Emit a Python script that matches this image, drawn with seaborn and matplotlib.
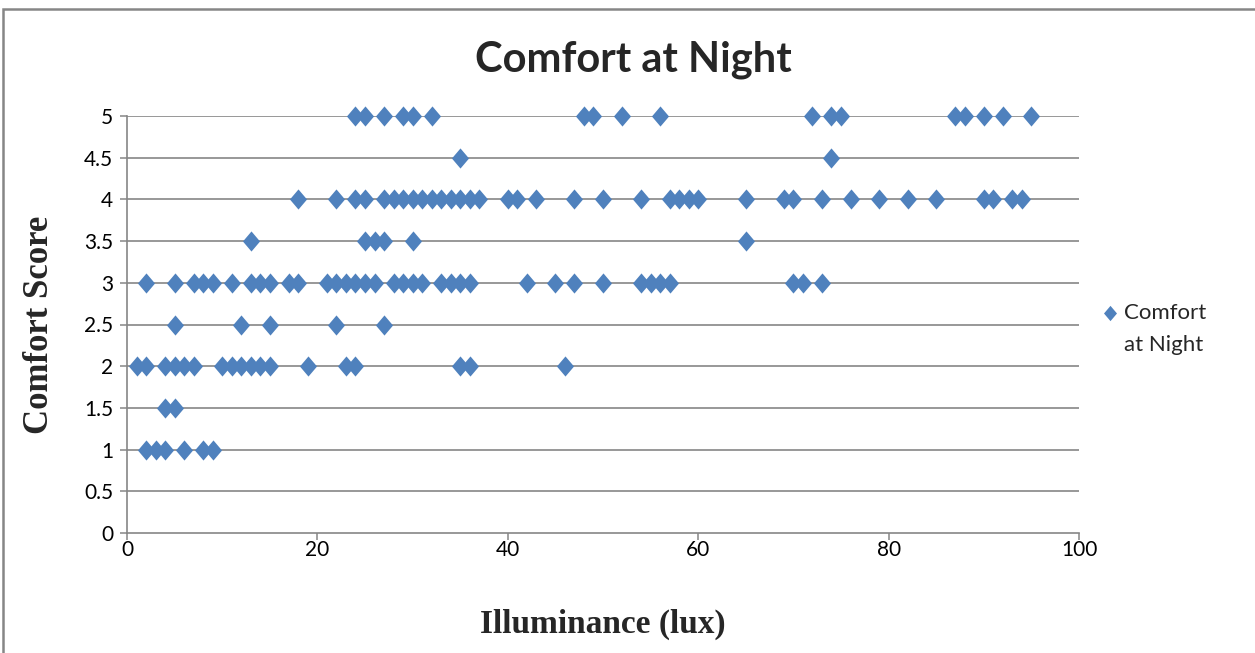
import numpy as np
import pandas as pd
import matplotlib
matplotlib.use("Agg")
import matplotlib.pyplot as plt
from matplotlib.path import Path
from matplotlib.patches import Rectangle
from matplotlib.lines import Line2D
import seaborn as sns

# Illuminance readings (lux) grouped by reported comfort score
lux_at_5 = [24, 25, 27, 29, 30, 32, 48, 49, 52, 56, 72, 74, 75, 87, 88, 90, 92, 95]
lux_at_4_5 = [35, 74]
lux_at_4 = [18, 22, 24, 25, 27, 28, 29, 30, 31, 32, 33, 34, 35, 36, 37, 40, 41, 43,
            47, 50, 54, 57, 58, 59, 60, 65, 69, 70, 73, 76, 79, 82, 85, 90, 91, 93, 94]
lux_at_3_5 = [13, 25, 26, 27, 30, 65]
lux_at_3 = [2, 5, 7, 8, 9, 11, 13, 14, 15, 17, 18, 21, 22, 23, 24, 25, 26, 28, 29,
            30, 31, 33, 34, 35, 36, 42, 45, 47, 50, 54, 55, 56, 57, 70, 71, 73]
lux_at_2_5 = [5, 12, 15, 22, 27]
lux_at_2 = [1, 2, 4, 5, 6, 7, 10, 11, 12, 13, 14, 15, 19, 23, 24, 35, 36, 46]
lux_at_1_5 = [4, 5]
lux_at_1 = [2, 3, 4, 6, 8, 9]

score_levels = [5, 4.5, 4, 3.5, 3, 2.5, 2, 1.5, 1]
lux_groups = [lux_at_5, lux_at_4_5, lux_at_4, lux_at_3_5, lux_at_3,
              lux_at_2_5, lux_at_2, lux_at_1_5, lux_at_1]

x_ticks = [0, 20, 40, 60, 80, 100]
y_ticks = [0, 0.5, 1, 1.5, 2, 2.5, 3, 3.5, 4, 4.5, 5]

df = pd.DataFrame({
    "Illuminance": [x for grp in lux_groups for x in grp],
    "Comfort": [s for s, grp in zip(score_levels, lux_groups) for _ in grp],
})

sns.set_theme(style="white")
plt.rcParams["font.family"] = ["Lato", "DejaVu Sans"]

W, H = 1255, 653
fig = plt.figure(figsize=(W / 100, H / 100), dpi=100)
fig.patch.set_facecolor("white")

# chart-area frame
fig.patches.append(Rectangle((3 / W, -0.05), 1.1, (H - 9) / H + 0.05,
                             transform=fig.transFigure, fill=False,
                             edgecolor="#868686", linewidth=1.8, zorder=0))

ax = fig.add_axes([127 / W, (H - 533) / H, 952 / W, 417 / H])

diamond = Path([(0, 1), (0.85, 0), (0, -1), (-0.85, 0), (0, 1)],
               [Path.MOVETO, Path.LINETO, Path.LINETO, Path.LINETO, Path.CLOSEPOLY])
blue = "#4F81BD"

sns.scatterplot(data=df, x="Illuminance", y="Comfort", ax=ax, marker=diamond,
                s=210, color=blue, linewidth=0, legend=False, zorder=3,
                clip_on=False)

ax.set_xlim(0, 100)
ax.set_ylim(0, 5)
ax.set_xticks(x_ticks)
ax.set_yticks(y_ticks)
ax.set_xticklabels([f"{v:g}" for v in x_ticks])
ax.set_yticklabels([f"{v:g}" for v in y_ticks])

grid_c = "#868686"
for v in y_ticks[1:]:
    ax.axhline(v, color=grid_c, linewidth=1.2, zorder=1)
for side in ["top", "right"]:
    ax.spines[side].set_visible(False)
for side in ["left", "bottom"]:
    ax.spines[side].set_color(grid_c)
    ax.spines[side].set_linewidth(1.2)

ax.tick_params(axis="both", which="both", direction="out", length=5, width=1.1,
               color=grid_c, labelsize=15, labelcolor="black")
ax.tick_params(axis="x", pad=0, bottom=True)
ax.tick_params(axis="y", pad=5, left=True)

ax.set_xlabel("Illuminance (lux)", fontfamily="Liberation Serif", fontweight="bold",
              fontsize=24, labelpad=35)
ax.set_ylabel("Comfort Score", fontfamily="Liberation Serif", fontweight="bold",
              fontsize=25, labelpad=20)

fig.text(633 / W, 1 - 60 / H, "Comfort at Night", ha="center", va="center",
         fontsize=30, fontweight="bold")

# legend entry
fig.add_artist(Line2D([1110 / W], [1 - 313 / H], linestyle="none", marker=diamond,
                      markersize=11, markerfacecolor=blue, markeredgewidth=0,
                      transform=fig.transFigure))
fig.text(1124 / W, 1 - 313 / H, "Comfort", ha="left", va="center", fontsize=16)
fig.text(1124 / W, 1 - 345 / H, "at Night", ha="left", va="center", fontsize=16)

fig.savefig("out.png", dpi=100, facecolor="white")
